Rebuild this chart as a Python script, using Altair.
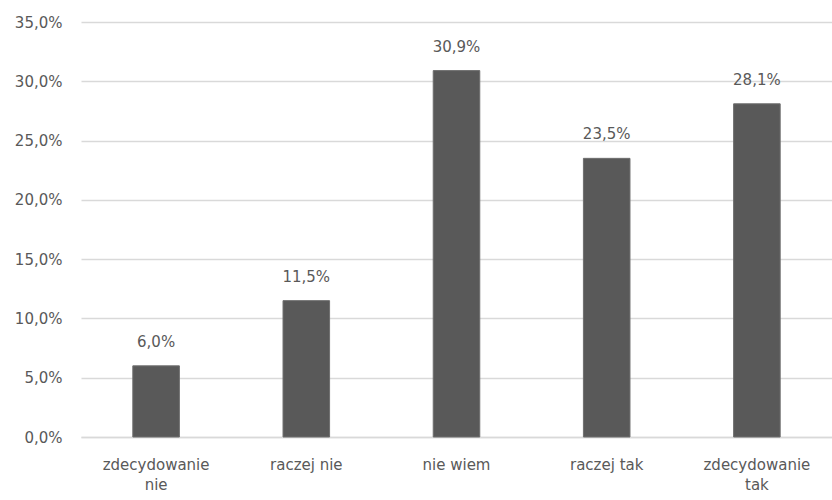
import altair as alt
import pandas as pd

categories = ["zdecydowanie nie", "raczej nie", "nie wiem", "raczej tak", "zdecydowanie tak"]
values = [0.060, 0.115, 0.309, 0.235, 0.281]

df = pd.DataFrame({"kat": categories, "val": values})

FONT = "DejaVu Sans"
FS = 15
GREY = "#595959"

base = alt.Chart(df).encode(
    x=alt.X("kat:N", sort=categories, title=None,
            scale=alt.Scale(paddingInner=0.69, paddingOuter=0.345),
            axis=alt.Axis(labelAngle=0, labelFont=FONT, labelFontSize=FS, labelColor=GREY,
                          labelPadding=20, labelLineHeight=20, ticks=False,
                          domainColor="#d9d9d9", domainWidth=1.5,
                          labelExpr="indexof(datum.label, 'zdecydowanie') == 0 ? split(datum.label, ' ') : datum.label")),
    y=alt.Y("val:Q", title=None,
            scale=alt.Scale(domain=[0, 0.35], nice=False),
            axis=alt.Axis(values=[0, 0.05, 0.1, 0.15, 0.2, 0.25, 0.3, 0.35],
                          labelExpr="replace(format(datum.value, '.1%'), '.', ',')",
                          labelFont=FONT, labelFontSize=FS, labelColor=GREY,
                          labelPadding=19, ticks=False, domain=False,
                          gridColor="#d9d9d9", gridWidth=1.5)),
)

bars = base.mark_bar(color=GREY, stroke="#6e6e6e", strokeWidth=1)
labels = base.transform_calculate(
    lab="replace(format(datum.val, '.1%'), '.', ',')"
).mark_text(dy=-24, font=FONT, fontSize=FS, color=GREY, baseline="middle").encode(text="lab:N")

chart = (bars + labels).properties(
    width=751, height=415,
    autosize=alt.AutoSizeParams(type="none"),
    padding={"left": 81, "top": 22, "right": 0, "bottom": 63},
).configure(background="white").configure_view(stroke=None)

chart.save("out.html", embed_options={"renderer": "svg", "actions": False})
